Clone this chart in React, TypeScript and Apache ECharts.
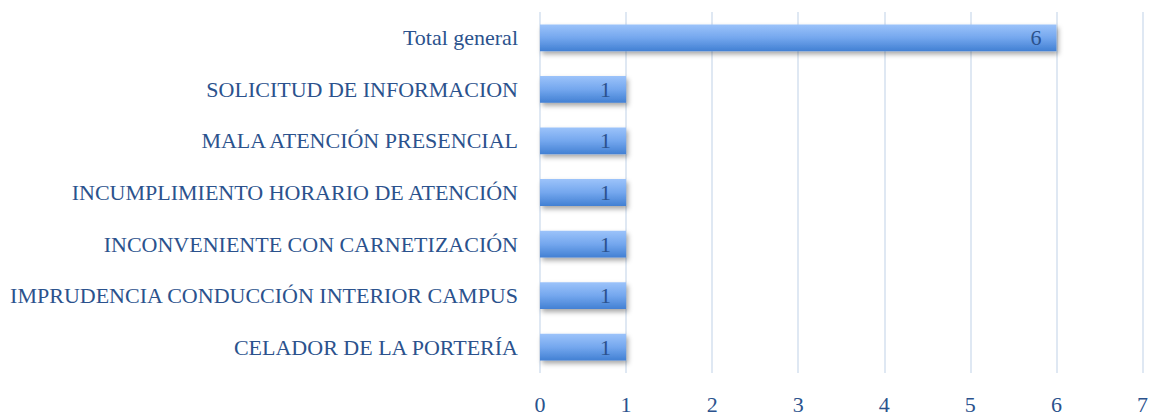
import React, { useEffect, useRef } from "react";
import * as echarts from "echarts";

const categories = [
  "CELADOR DE LA PORTERÍA",
  "IMPRUDENCIA CONDUCCIÓN INTERIOR CAMPUS",
  "INCONVENIENTE CON CARNETIZACIÓN",
  "INCUMPLIMIENTO HORARIO DE ATENCIÓN",
  "MALA ATENCIÓN PRESENCIAL",
  "SOLICITUD DE INFORMACION",
  "Total general",
];
const values = [1, 1, 1, 1, 1, 1, 6];
const xTicks = { min: 0, max: 7, interval: 1 };

const FONT = "'Liberation Serif', 'DejaVu Serif', serif";
const TEXT = "#2b528d";

export default function App() {
  const ref = useRef<HTMLDivElement>(null);
  useEffect(() => {
    const chart = echarts.init(ref.current!, null, { renderer: "svg" });
    chart.setOption({
      animation: false,
      grid: { left: 540, right: 8, top: 12, bottom: 43, containLabel: false },
      xAxis: {
        type: "value",
        min: xTicks.min,
        max: xTicks.max,
        interval: xTicks.interval,
        axisLine: { show: false },
        axisTick: { show: false },
        splitLine: { show: true, lineStyle: { color: "#d5e0ef", width: 1.5 } },
        axisLabel: { color: TEXT, fontFamily: FONT, fontSize: 22, margin: 20 },
      },
      yAxis: {
        type: "category",
        data: categories,
        axisLine: { show: false },
        axisTick: { show: false },
        axisLabel: { color: TEXT, fontFamily: FONT, fontSize: 22, margin: 22 },
      },
      series: [
        {
          type: "bar",
          data: values,
          barCategoryGap: "48%",
          itemStyle: {
            color: new echarts.graphic.LinearGradient(0, 0, 0, 1, [
              { offset: 0, color: "#9cc3fa" },
              { offset: 0.5, color: "#74a7ee" },
              { offset: 1, color: "#4280d3" },
            ]),
            shadowColor: "rgba(0,0,0,0.35)",
            shadowBlur: 5,
            shadowOffsetX: 2,
            shadowOffsetY: 3,
          },
          label: {
            show: true,
            position: "insideRight",
            distance: 15,
            color: TEXT,
            fontFamily: FONT,
            fontSize: 22,
          },
        },
      ],
    });
    return () => chart.dispose();
  }, []);
  return <div ref={ref} style={{ width: 1151, height: 416, position: "absolute", left: 0, top: 0 }} />;
}
